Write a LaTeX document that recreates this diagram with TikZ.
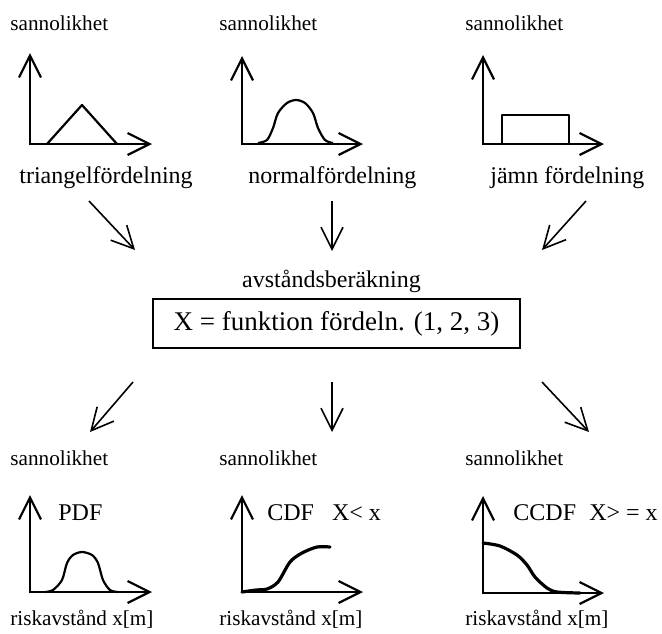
\documentclass[tikz,border=0pt]{standalone}
\usepackage{fontspec}
\setmainfont{Liberation Serif}
\usetikzlibrary{arrows.meta}
\tikzstyle{ytext} = [
    anchor=base west,
    inner sep=0pt,
    font=\fontsize{10.6}{12}\selectfont
]
\tikzstyle{dtext} = [
    anchor=base west,
    inner sep=0pt,
    font=\fontsize{12}{14}\selectfont
]
\tikzstyle{formula} = [
    rectangle,
    minimum width=183.5pt,
    minimum height=24.5pt,
    line width=0.8pt,
    draw=black,
    font=\fontsize{13.5}{16}\selectfont
]
\tikzstyle{axis} = [line width=1.1pt,{Straight Barb[length=11pt,width=11pt]}-{Straight Barb[length=11pt,width=11pt]}]
\tikzstyle{arrow} = [line width=0.8pt,-{Straight Barb[length=11pt,width=11pt]}]
\tikzstyle{curve} = [line width=1.1pt,line join=round]
\tikzstyle{handcurve} = [line width=1.6pt,line join=round,line cap=round]

\begin{document}
\begin{tikzpicture}[x=0.5pt,y=-0.5pt]
\useasboundingbox (0,0) rectangle (662,633);

% input distributions
\node (prob1) [ytext] at (10,30) {sannolikhet};
\node (prob2) [ytext] at (219,30) {sannolikhet};
\node (prob3) [ytext] at (465,30) {sannolikhet};

\draw [axis] (30,53) -- (30,144) -- (152,144);
\draw [axis] (242,56) -- (242,144) -- (363,144);
\draw [axis] (483,55) -- (483,144) -- (604,144);

\draw [curve] (47,144) -- (82,105) -- (117,144);
\draw [curve] plot[smooth] coordinates {(258,143) (267,140) (273,128) (278,113) (287,103) (296,100) (305,103) (313,113) (318,128) (325,140) (333,143)};
\draw [curve] (502,144) rectangle (569,115);

\node (tri) [dtext] at (19,183) {triangelfördelning};
\node (norm) [dtext] at (248,183) {normalfördelning};
\node (unif) [dtext] at (490,183) {jämn fördelning};

% calculation
\node (calc) [dtext, anchor=base] at (331.5,287) {avståndsberäkning};
\node (func) [formula] at (336.5,323.5) {X = funktion fördeln. (1, 2, 3)};

\coordinate (in1) at (89,201);
\coordinate (in2) at (332,201);
\coordinate (in3) at (586,201);
\coordinate (mid1) at (135,250);
\coordinate (mid2) at (332,251);
\coordinate (mid3) at (542,250);
\draw [arrow] (in1) -- (mid1);
\draw [arrow] (in2) -- (mid2);
\draw [arrow] (in3) -- (mid3);

\coordinate (out1) at (133,382);
\coordinate (out2) at (332,382);
\coordinate (out3) at (542,382);
\coordinate (res1) at (90,432);
\coordinate (res2) at (332,432);
\coordinate (res3) at (589,432);
\draw [arrow] (out1) -- (res1);
\draw [arrow] (out2) -- (res2);
\draw [arrow] (out3) -- (res3);

% results
\node (prob4) [ytext] at (10,465) {sannolikhet};
\node (prob5) [ytext] at (219,465) {sannolikhet};
\node (prob6) [ytext] at (465,465) {sannolikhet};

\draw [axis] (30,495) -- (30,592) -- (152,592);
\draw [axis] (242,495) -- (242,592) -- (363,592);
\draw [axis] (483,496) -- (483,593) -- (604,593);

\node (pdf) [dtext] at (58,520) {PDF};
\node (cdf) [dtext] at (267,520) {CDF\hspace{0.75em}X< x};
\node (ccdf) [dtext] at (513,520) {CCDF\hspace{0.55em}X> = x};

\draw [curve] plot[smooth] coordinates {(45,592) (53,590) (62,580) (67,563) (73,555) (82,552) (92,555) (98,563) (103,580) (110,590) (118,592)};
\draw [handcurve] plot[smooth] coordinates {(242,592) (256,590) (267,589) (278,582) (290,562) (302,553) (317,547) (330,547)};
\draw [handcurve] plot[smooth] coordinates {(483,543) (500,546) (517,555) (527,565) (535,577) (547,588) (557,592) (580,593)};

\node (dist4) [ytext] at (10,625) {riskavstånd x[m]};
\node (dist5) [ytext] at (219,625) {riskavstånd x[m]};
\node (dist6) [ytext] at (465,625) {riskavstånd x[m]};

\end{tikzpicture}
\end{document}
